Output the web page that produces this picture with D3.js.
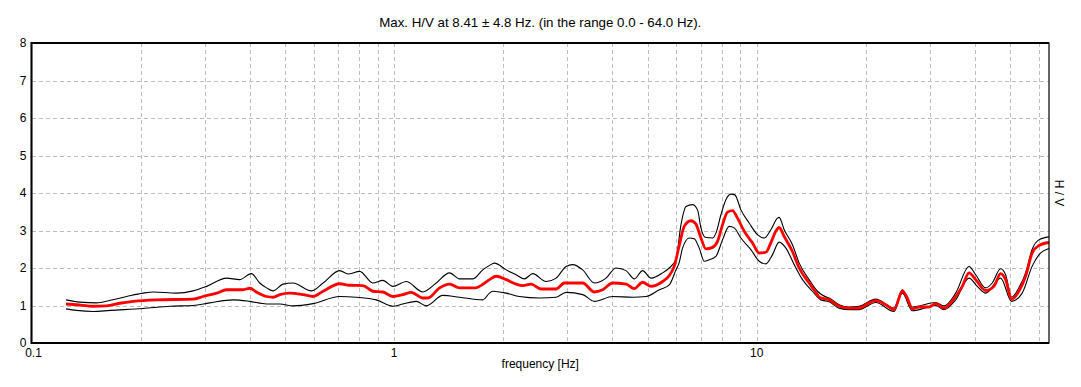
<!DOCTYPE html>
<html lang="en">
  <head>
    <meta charset="utf-8" />
    <title>H/V spectral ratio</title>
    <script src="https://cdn.jsdelivr.net/npm/d3@7"></script>
    <style>
      body { margin: 0; background: #fff; }
      svg text { font-family: "Liberation Sans", Arial, sans-serif; font-size: 12px; fill: #000; }
      svg text.title { font-size: 13.3px; }
    </style>
  </head>
  <body>
    <div id="chart"></div>
    <script>
      // values: [frequency Hz, H/V]
      const meanCurve = [
        [0.1245, 1.04], [0.133, 1.02], [0.148, 0.98], [0.161, 0.99], [0.175, 1.06], [0.191, 1.11],
        [0.221, 1.15], [0.279, 1.17], [0.297, 1.24], [0.324, 1.33], [0.345, 1.42], [0.383, 1.42],
        [0.400, 1.46], [0.417, 1.36], [0.445, 1.24], [0.464, 1.22], [0.484, 1.29], [0.515, 1.33],
        [0.561, 1.29], [0.598, 1.24], [0.637, 1.38], [0.708, 1.58], [0.754, 1.54], [0.820, 1.53],
        [0.874, 1.38], [0.931, 1.36], [0.992, 1.24], [1.057, 1.29], [1.115, 1.35], [1.200, 1.20],
        [1.239, 1.20], [1.335, 1.47], [1.422, 1.57], [1.515, 1.47], [1.685, 1.47], [1.720, 1.51],
        [1.833, 1.69], [1.912, 1.78], [2.038, 1.69], [2.171, 1.57], [2.264, 1.53], [2.388, 1.57],
        [2.544, 1.44], [2.798, 1.44], [2.949, 1.60], [3.312, 1.60], [3.567, 1.36], [3.760, 1.42],
        [4.006, 1.60], [4.362, 1.57], [4.598, 1.45], [4.847, 1.62], [5.112, 1.51], [5.503, 1.64],
        [5.741, 1.80], [5.925, 2.05], [6.116, 2.60], [6.313, 3.11], [6.587, 3.26], [6.799, 3.17],
        [7.018, 2.80], [7.244, 2.51], [7.554, 2.55], [7.798, 2.71], [8.049, 3.15], [8.309, 3.49],
        [8.576, 3.53], [8.853, 3.33], [9.239, 2.98], [9.736, 2.67], [10.16, 2.40], [10.60, 2.42],
        [10.94, 2.67], [11.29, 2.98], [11.53, 3.08], [11.91, 2.84], [12.55, 2.44], [13.10, 2.00],
        [13.95, 1.60], [14.71, 1.29], [14.87, 1.22], [15.84, 1.15], [16.88, 0.98], [17.98, 0.93],
        [19.16, 0.93], [20.41, 1.07], [21.30, 1.13], [22.70, 1.02], [23.92, 0.89], [25.22, 1.38],
        [26.03, 1.20], [26.87, 0.91], [28.04, 0.96], [29.87, 0.96], [31.17, 1.05], [32.85, 0.93],
        [35.39, 1.24], [36.90, 1.51], [38.51, 1.87], [40.18, 1.69], [42.80, 1.40], [45.11, 1.51],
        [47.07, 1.85], [48.59, 1.69], [50.47, 1.17], [52.86, 1.38], [55.16, 1.78], [57.52, 2.40],
        [60.01, 2.60], [64.0, 2.68]
      ];

      const upperCurve = [
        [0.1245, 1.15], [0.136, 1.09], [0.151, 1.07], [0.165, 1.14], [0.183, 1.24], [0.203, 1.33],
        [0.217, 1.36], [0.251, 1.33], [0.279, 1.39], [0.304, 1.51], [0.345, 1.73], [0.375, 1.69],
        [0.404, 1.85], [0.426, 1.60], [0.445, 1.47], [0.464, 1.39], [0.494, 1.57], [0.526, 1.60],
        [0.592, 1.39], [0.637, 1.60], [0.708, 1.93], [0.746, 1.84], [0.804, 1.91], [0.874, 1.60],
        [0.931, 1.67], [0.992, 1.51], [1.080, 1.64], [1.200, 1.36], [1.307, 1.60], [1.422, 1.87],
        [1.515, 1.71], [1.649, 1.71], [1.756, 1.95], [1.833, 2.07], [1.892, 2.13], [2.038, 1.95],
        [2.171, 1.82], [2.288, 1.71], [2.412, 1.85], [2.626, 1.64], [2.798, 1.73], [2.981, 2.04],
        [3.109, 2.09], [3.312, 1.95], [3.567, 1.60], [3.842, 1.73], [4.093, 2.00], [4.362, 1.93],
        [4.598, 1.71], [4.847, 1.93], [5.112, 1.73], [5.503, 1.87], [5.741, 2.00], [5.861, 2.09],
        [5.989, 2.22], [6.182, 3.15], [6.383, 3.64], [6.654, 3.69], [6.868, 3.55], [7.018, 3.07],
        [7.212, 2.82], [7.554, 2.80], [7.719, 2.93], [7.968, 3.42], [8.225, 3.82], [8.489, 3.97],
        [8.707, 3.95], [9.046, 3.55], [9.535, 3.20], [10.05, 2.89], [10.49, 2.80], [10.94, 3.02],
        [11.41, 3.33], [11.53, 3.35], [11.91, 3.02], [12.55, 2.62], [13.10, 2.13], [13.95, 1.69],
        [14.71, 1.38], [15.51, 1.23], [15.84, 1.20], [16.88, 1.02], [17.98, 0.96], [19.16, 0.98],
        [21.30, 1.17], [23.92, 0.93], [25.22, 1.42], [26.87, 0.96], [31.17, 1.08], [32.85, 0.99],
        [35.39, 1.33], [38.51, 2.04], [40.18, 1.82], [42.80, 1.47], [44.63, 1.60], [47.07, 1.98],
        [48.59, 1.82], [50.47, 1.22], [52.86, 1.47], [55.16, 1.87], [57.52, 2.50], [60.01, 2.75],
        [64.0, 2.83]
      ];

      const lowerCurve = [
        [0.1245, 0.91], [0.133, 0.87], [0.148, 0.84], [0.165, 0.87], [0.203, 0.92], [0.241, 0.98],
        [0.279, 1.00], [0.310, 1.07], [0.360, 1.15], [0.400, 1.11], [0.445, 1.04], [0.484, 1.04],
        [0.526, 0.99], [0.598, 1.05], [0.708, 1.24], [0.787, 1.22], [0.893, 1.15], [0.992, 0.98],
        [1.057, 1.04], [1.151, 1.11], [1.227, 0.99], [1.363, 1.27], [1.515, 1.22], [1.756, 1.15],
        [1.833, 1.33], [1.872, 1.38], [2.038, 1.33], [2.217, 1.24], [2.516, 1.20], [2.798, 1.22],
        [2.981, 1.35], [3.312, 1.29], [3.567, 1.11], [4.006, 1.24], [4.549, 1.22], [4.953, 1.24],
        [5.389, 1.42], [5.741, 1.55], [5.989, 1.95], [6.116, 2.15], [6.245, 2.53], [6.517, 2.80],
        [6.726, 2.78], [6.943, 2.53], [7.167, 2.18], [7.397, 2.22], [7.719, 2.31], [8.049, 2.75],
        [8.398, 3.11], [8.669, 3.07], [9.046, 2.80], [9.639, 2.49], [10.16, 2.18], [10.60, 2.11],
        [11.05, 2.35], [11.53, 2.69], [12.04, 2.53], [12.69, 2.09], [13.38, 1.69], [14.24, 1.38],
        [15.03, 1.15], [15.84, 1.10], [16.88, 0.93], [17.98, 0.89], [19.16, 0.89], [21.30, 1.08],
        [23.92, 0.84], [25.22, 1.33], [26.87, 0.86], [31.17, 1.00], [32.85, 0.89], [35.39, 1.15],
        [38.51, 1.73], [40.59, 1.51], [42.80, 1.33], [47.07, 1.73], [50.47, 1.11], [53.98, 1.33],
        [57.52, 2.05], [60.01, 2.35], [64.0, 2.52]
      ];

      const xTickLabels = [0.1, 1, 10];
      const yTicks = [0, 1, 2, 3, 4, 5, 6, 7, 8];
      const titleText = "Max. H/V at 8.41 \u00b1 4.8 Hz. (in the range 0.0 - 64.0 Hz).";

      const width = 1081, height = 387;
      const margin = { top: 43, right: 32, bottom: 44, left: 31.5 };

      const svg = d3.select("#chart").append("svg")
        .attr("width", width)
        .attr("height", height);

      const x = d3.scaleLog()
        .domain([0.1, 64])
        .range([margin.left, width - margin.right]);
      const y = d3.scaleLinear()
        .domain([0, 8])
        .range([height - margin.bottom, margin.top]);

      // grid lines
      const xGrid = x.ticks().filter(d => d > 0.1 && d < 64);
      svg.append("g")
        .selectAll("line")
        .data(xGrid)
        .join("line")
        .attr("x1", d => Math.round(x(d)) + 0.5)
        .attr("x2", d => Math.round(x(d)) + 0.5)
        .attr("y1", y(8))
        .attr("y2", y(0))
        .attr("stroke", "#bdbdbd")
        .attr("stroke-dasharray", "4,3")
        .attr("shape-rendering", "crispEdges");

      svg.append("g")
        .selectAll("line")
        .data(yTicks.filter(d => d > 0 && d < 8))
        .join("line")
        .attr("x1", x(0.1))
        .attr("x2", x(64))
        .attr("y1", d => Math.round(y(d)) + 0.5)
        .attr("y2", d => Math.round(y(d)) + 0.5)
        .attr("stroke", "#bdbdbd")
        .attr("stroke-dasharray", "4,3")
        .attr("shape-rendering", "crispEdges");

      // curves
      const line = d3.line()
        .x(d => x(d[0]))
        .y(d => y(d[1]))
        .curve(d3.curveMonotoneX);

      [upperCurve, lowerCurve].forEach(c => {
        svg.append("path")
          .datum(c)
          .attr("d", line)
          .attr("fill", "none")
          .attr("stroke", "#000")
          .attr("stroke-width", 1.1);
      });

      svg.append("path")
        .datum(meanCurve)
        .attr("d", line)
        .attr("fill", "none")
        .attr("stroke", "#ff0000")
        .attr("stroke-width", 2.8)
        .attr("stroke-linejoin", "round");

      // frame
      svg.append("rect")
        .attr("x", x(0.1))
        .attr("y", y(8))
        .attr("width", x(64) - x(0.1))
        .attr("height", y(0) - y(8))
        .attr("fill", "none")
        .attr("stroke", "#000")
        .attr("stroke-width", 1.2);
      svg.append("path")
        .attr("d", `M${x(64)},${y(8)} H${x(0.1)} V${y(0)} H${x(64)}`)
        .attr("fill", "none")
        .attr("stroke", "#000")
        .attr("stroke-width", 2);

      // tick labels
      svg.append("g")
        .selectAll("text")
        .data(yTicks)
        .join("text")
        .attr("x", x(0.1) - 5)
        .attr("y", d => y(d) + 4)
        .attr("text-anchor", "end")
        .text(d => d);

      svg.append("g")
        .selectAll("text")
        .data(xTickLabels)
        .join("text")
        .attr("x", d => x(d) + (d === 0.1 ? 2 : 0))
        .attr("y", y(0) + 14)
        .attr("text-anchor", "middle")
        .text(d => d);

      // titles
      svg.append("text")
        .attr("class", "title")
        .attr("x", (x(0.1) + x(64)) / 2)
        .attr("y", 27)
        .attr("text-anchor", "middle")
        .text(titleText);

      svg.append("text")
        .attr("x", (x(0.1) + x(64)) / 2)
        .attr("y", 368)
        .attr("text-anchor", "middle")
        .text("frequency [Hz]");

      svg.append("text")
        .attr("transform", `translate(1055,193) rotate(90)`)
        .attr("text-anchor", "middle")
        .text("H / V");
    </script>
  </body>
</html>
